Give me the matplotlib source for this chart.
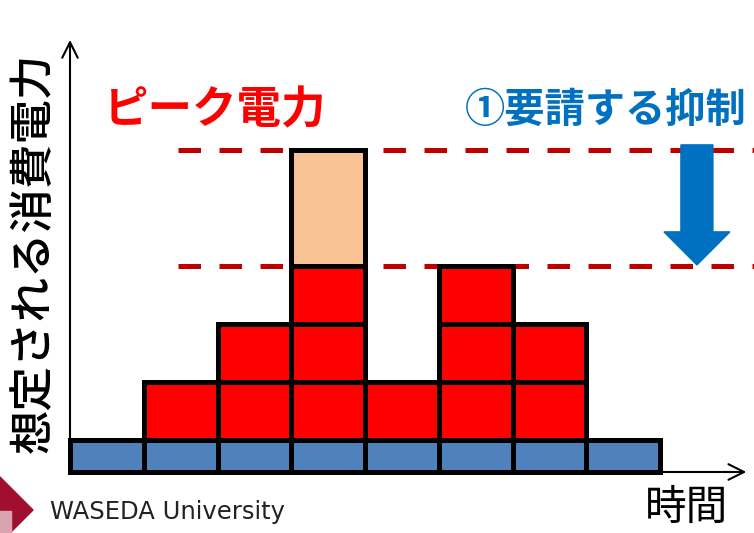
import matplotlib.pyplot as plt
from matplotlib.patches import Polygon, Rectangle

plt.rcParams['font.family'] = ['Noto Sans CJK JP', 'DejaVu Sans']

# time slots and stacked load blocks
slots = [0, 1, 2, 3, 4, 5, 6, 7]
base_load = [0.55, 0.55, 0.55, 0.55, 0.55, 0.55, 0.55, 0.55]
red_blocks = [0, 1, 2, 3, 1, 3, 2, 0]
peak_blocks = [0, 0, 0, 2, 0, 0, 0, 0]

y_label = "想定される消費電力"
x_label = "時間"
peak_label = "ピーク電力"
cut_label = "①要請する抑制"

fig = plt.figure(figsize=(7.54, 5.33), dpi=100)
ax = fig.add_axes([0, 0, 1, 1])
ax.set_xlim(-0.949, 9.274)
ax.set_ylim(-1.052, 8.138)
ax.axis('off')

edge = dict(edgecolor='black', linewidth=3.6, zorder=3)

# base load row
ax.bar([s + 0.5 for s in slots], base_load, width=1, color='#4F81BD', **edge)

# red unit blocks stacked on top of base
for s, n, b in zip(slots, red_blocks, base_load):
    for k in range(n):
        ax.bar(s + 0.5, 1, bottom=b + k, width=1, color='#FF0000', **edge)

# peak part to be cut
for s, n, b, r in zip(slots, peak_blocks, base_load, red_blocks):
    if n > 0:
        ax.bar(s + 0.5, n, bottom=b + r, width=1, color='#F9C396', **edge)

# dashed reference lines: peak and target level
i_peak = peak_blocks.index(max(peak_blocks))
peak_top = base_load[i_peak] + red_blocks[i_peak] + peak_blocks[i_peak]
target = base_load[i_peak] + red_blocks[i_peak]
for yv in (peak_top, target):
    ax.plot([1.46, 9.3], [yv, yv], color='#C00000', lw=3.6,
            linestyle=(0, (4.5, 3.7)), solid_capstyle='butt',
            dash_capstyle='butt', zorder=1)

# axes arrows
ax.annotate('', xy=(0, 7.45), xytext=(0, 0),
            arrowprops=dict(arrowstyle='->', lw=1.5, color='black',
                            mutation_scale=28, shrinkA=0, shrinkB=0))
ax.annotate('', xy=(9.17, 0), xytext=(0, 0),
            arrowprops=dict(arrowstyle='->', lw=1.5, color='black',
                            mutation_scale=28, shrinkA=0, shrinkB=0))

# blue down arrow
ax_c, sh, hh = 8.5, 0.217, 0.447
top, neck, tip = 5.64, 4.14, 3.57
arrow = Polygon([(ax_c - sh, top), (ax_c + sh, top), (ax_c + sh, neck),
                 (ax_c + hh, neck), (ax_c, tip), (ax_c - hh, neck),
                 (ax_c - sh, neck)], closed=True, color='#0070C0', zorder=4)
ax.add_patch(arrow)

# labels
fig.text(215 / 754, 1 - 110 / 533, peak_label, color='#FF0000', fontsize=32,
         fontweight='bold', ha='center', va='center')
fig.text(606 / 754, 1 - 110 / 533, cut_label, color='#0070C0', fontsize=29,
         fontweight='bold', ha='center', va='center')
fig.text(34 / 754, 1 - 253 / 533, y_label, color='black', fontsize=32,
         fontweight='medium', rotation=90, ha='center', va='center')
fig.text(686 / 754, 1 - 508 / 533, x_label, color='black', fontsize=30,
         ha='center', va='center')

# footer logo
W, H = 754, 533
logo = Polygon([(33 / W, 1 - 510 / H), (-2 / W, 1 - 475 / H),
                (-37 / W, 1 - 510 / H), (-2 / W, 1 - 545 / H)],
               closed=True, color='#A0102E', transform=fig.transFigure)
fig.patches.append(logo)
crest = Rectangle((0, 1 - 533 / H), 11 / W, 22 / H, color='#D7A3AE',
                  transform=fig.transFigure)
fig.patches.append(crest)
fig.text(50 / W, 1 - 512 / H, "WASEDA University", color='#222222',
         fontsize=17.5, family='DejaVu Sans', ha='left', va='center')

fig.savefig('out.png', dpi=100)
